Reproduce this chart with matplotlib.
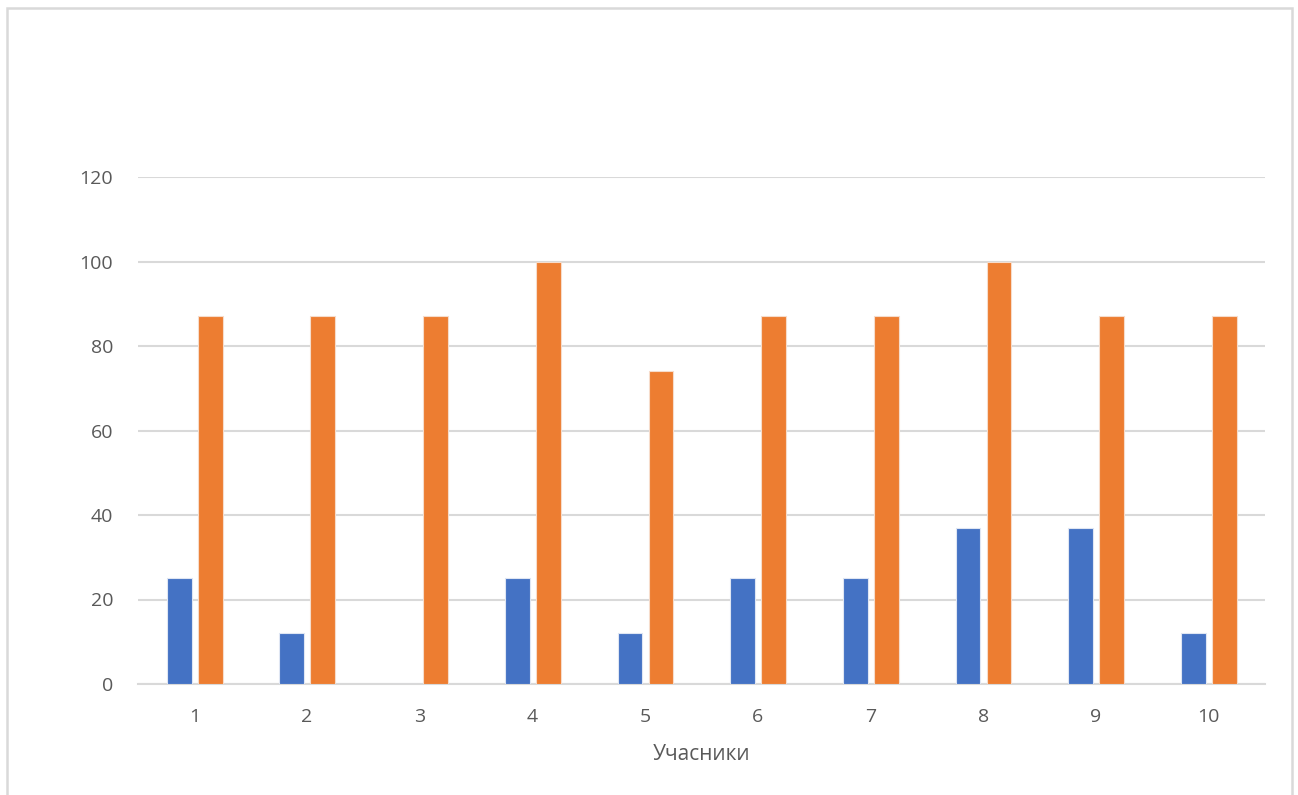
import matplotlib
matplotlib.use("Agg")
import matplotlib.pyplot as plt
from matplotlib.patches import Rectangle
import numpy as np

categories = ["1", "2", "3", "4", "5", "6", "7", "8", "9", "10"]
series_a = [25, 12, 0, 25, 12, 25, 25, 37, 37, 12]
series_b = [87, 87, 87, 100, 74, 87, 87, 100, 87, 87]
y_ticks = [0, 20, 40, 60, 80, 100, 120]
x_title = "Учасники"

plt.rcParams["font.family"] = ["Open Sans", "DejaVu Sans"]

W, H = 1298, 795
fig = plt.figure(figsize=(W / 100, H / 100), dpi=100)
fig.patch.set_facecolor("white")

# outer chart-area border (runs off the bottom edge)
fig.add_artist(Rectangle((7 / W, -20 / H), (1292 - 7) / W, (795 + 20 - 8) / H,
                         transform=fig.transFigure, fill=False,
                         edgecolor="#d9d9d9", linewidth=1.8))

ax = fig.add_axes([138 / W, 1 - 684 / H, (1265 - 138) / W, (684 - 177) / H])

x = np.arange(len(categories))
w = 0.22
ax.bar(x - 0.135, series_a, width=w, color="#4472C4", edgecolor="#dfe6f3",
       linewidth=0.8, zorder=3)
ax.bar(x + 0.14, series_b, width=w, color="#ED7D31", edgecolor="#f6dccb",
       linewidth=0.8, zorder=3)

ax.set_xlim(-0.5, len(categories) - 0.5)
ax.set_ylim(0, 120)
ax.set_yticks(y_ticks)
ax.set_xticks(x)
ax.set_xticklabels(categories)
ax.yaxis.grid(True, color="#d9d9d9", linewidth=1.5, zorder=0)
ax.set_axisbelow(True)
for s in ["left", "right", "top"]:
    ax.spines[s].set_visible(False)
ax.spines["bottom"].set_color("#d9d9d9")
ax.spines["bottom"].set_linewidth(1.5)
ax.tick_params(axis="both", length=0, labelsize=14, labelcolor="#595959")
ax.tick_params(axis="y", pad=18)
ax.tick_params(axis="x", pad=17)
ax.set_xlabel(x_title, fontsize=15, color="#595959", labelpad=13)

fig.savefig("out.png", dpi=100)
